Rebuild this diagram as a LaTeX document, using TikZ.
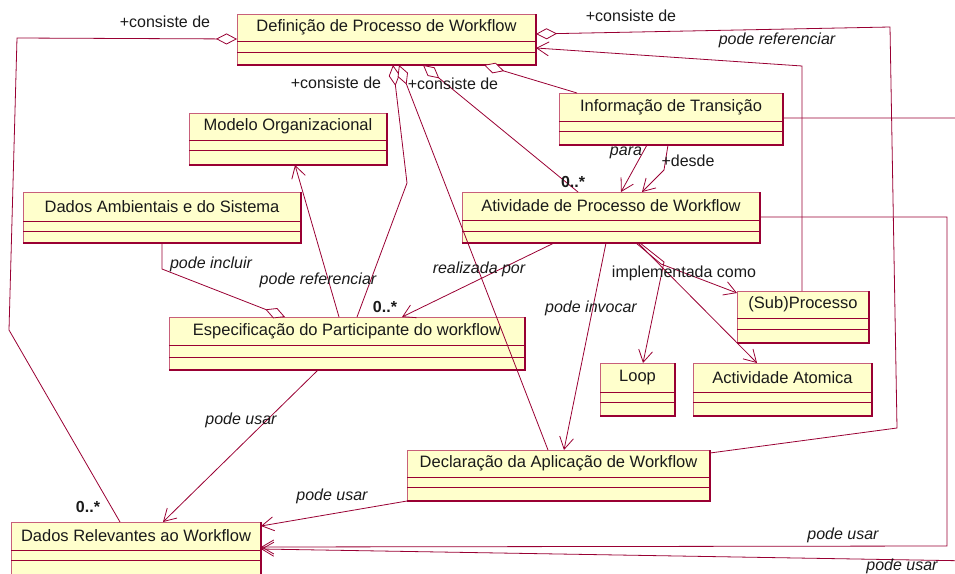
\documentclass[tikz,border=0pt]{standalone}
\usepackage{fontspec}
\setmainfont{Liberation Sans}
\usetikzlibrary{arrows.meta}

\definecolor{umlred}{HTML}{990033}
\definecolor{umledge}{HTML}{C8607A}
\definecolor{umlfill}{HTML}{FFFFCC}
\definecolor{umltext}{HTML}{1A1A1A}

\tikzset{
  clsbox/.style={rectangle, draw=umledge, fill=umlfill, line width=0.9pt, inner sep=0pt, outer sep=0pt},
  clstext/.style={font=\fontsize{16.5}{19}\selectfont, inner sep=0pt, text=umltext},
  sepline/.style={draw=umlred, line width=0.9pt},
  shadeline/.style={draw=umlred, line width=1.6pt},
  conn/.style={draw=umlred, line width=0.8pt},
  arr/.style={conn, -{Straight Barb[length=12pt,width=14pt,line width=0.8pt]}},
  comp/.style={conn, {Diamond[length=21pt,width=11pt,fill=white,line width=0.8pt]}-},
  compend/.style={conn, -{Diamond[length=21pt,width=11pt,fill=white,line width=0.8pt]}},
  lbl/.style={font=\fontsize{16}{19}\selectfont\itshape, inner sep=0pt, text=umltext},
  role/.style={font=\fontsize{16}{19}\selectfont, inner sep=0pt, text=umltext},
  mult/.style={font=\fontsize{16}{19}\selectfont\bfseries, inner sep=0pt, text=umltext}
}

% UML class box: name, x1, y1, x2, y2, first separator, second separator, title
\newcommand\umlclass[8]{%
  \node[clsbox, minimum width={(#4-#2)*1pt}, minimum height={(#5-#3)*1pt}, anchor=north west] (#1) at (#2,#3) {};
  \node[clstext] (#1-t) at ({(#2+#4)/2},{(#3+#6)/2}) {#8};
  \draw[sepline] (#1.west |- 0,#6) -- (#1.east |- 0,#6) (#1.west |- 0,#7) -- (#1.east |- 0,#7);
  \draw[shadeline] (#1.south west) -- (#1.south east) -- (#1.north east);
}

\begin{document}
\begin{tikzpicture}[x=1pt,y=-1pt]
\useasboundingbox (0,0) rectangle (955,573);
\clip (0,0) rectangle (955,573);

% classes
\umlclass{dpw}{237}{14}{536}{65}{41}{52}{Definição de Processo de Workflow}
\umlclass{mo}{189}{113}{387}{165}{140}{150}{Modelo Organizacional}
\umlclass{das}{23}{192}{301}{243}{221}{231}{Dados Ambientais e do Sistema}
\umlclass{it}{559}{93}{783}{145}{121}{131}{Informação de Transição}
\umlclass{apw}{462}{192}{760}{243}{220}{231}{Atividade de Processo de Workflow}
\umlclass{epw}{169}{317}{525}{370}{345}{357}{Especificação do Participante do workflow}
\umlclass{sub}{737}{291}{869}{343}{318}{329}{(Sub)Processo}
\umlclass{loop}{600}{363}{675}{416}{392}{402}{Loop}
\umlclass{aa}{693}{363}{872}{416}{392}{402}{Actividade Atomica}
\umlclass{daw}{407}{450}{710}{501}{477}{487}{Declaração da Aplicação de Workflow}
\umlclass{drw}{11}{522}{261}{592}{550}{560}{Dados Relevantes ao Workflow}

% aggregations from the process definition
\draw[comp] (dpw.west |- 0,39) -- (17,38) -- (9,330) -- (drw.north -| 120,0);
\draw[comp] (dpw.east |- 0,34) -- (890,27) -- (897,428) -- (daw.east |- 0,453);
\draw[comp] (dpw.south -| 484,0) -- (it.north -| 577,0);
\draw[comp] (dpw.south -| 393,0) -- (407,183) -- (epw.north -| 357,0);
\draw[comp] (dpw.south -| 399,0) -- (daw.north -| 548,0);
\draw[comp] (dpw.south -| 423,0) -- (apw.north -| 578,0);
\draw[compend] (das.south -| 162,0) -- (162,269) -- (epw.north -| 285,0);

% associations
\draw[arr] (sub.north -| 802,0) -- (802,66) -- (dpw.east |- 0,48);
\draw[arr] (it.south -| 647,0) -- (637,163) -- (apw.north -| 621,0);
\draw[arr] (it.south -| 668,0) -- (664,170) -- (apw.north -| 642,0);
\draw[arr] (it.east |- 0,118) -- (975,118) -- (975,561) -- (drw.east |- 0,549);
\draw[arr] (apw.east |- 0,217) -- (947,217) -- (947,546) -- (drw.east |- 0,547);
\draw[arr] (apw.south -| 554,0) -- (epw.north -| 402,0);
\draw[arr] (apw.south -| 606,0) -- (daw.north -| 564,0);
\draw[arr] (apw.south -| 636,0) -- (661,264) -- (sub.west |- 0,293);
\draw[arr] (apw.south -| 640,0) -- (664,262) -- (loop.north -| 643,0);
\draw[arr] (apw.south -| 638,0) -- (aa.north -| 757,0);
\draw[arr] (epw.north -| 339,0) -- (mo.south -| 295,0);
\draw[arr] (epw.south -| 318,0) -- (drw.north -| 163,0);
\draw[arr] (daw.south west) -- (drw.east |- 0,526);

% role names
\node[role] (r1) at (165,22) {+consiste de};
\node[role] (r2) at (631,16) {+consiste de};
\node[role] (r3) at (336,83) {+consiste de};
\node[role] (r4) at (453,84) {+consiste de};
\node[role] (r5) at (688,161) {+desde};

% multiplicities
\node[mult] (m1) at (88,507) {0..*};
\node[mult] (m2) at (573,182) {0..*};
\node[mult] (m3) at (385,307) {0..*};

% association labels
\node[lbl] (l1) at (777,40) {pode referenciar};
\node[lbl] (l2) at (626,153) {para};
\node[lbl] (l3) at (211,264) {pode incluir};
\node[lbl] (l4) at (318,280) {pode referenciar};
\node[lbl] (l5) at (479,269) {realizada por};
\node[lbl] (l6) at (591,308) {pode invocar};
\node[role] (l7) at (684,273) {implementada como};
\node[lbl] (l8) at (241,420) {pode usar};
\node[lbl] (l9) at (332,496) {pode usar};
\node[lbl] (l10) at (843,535) {pode usar};
\node[lbl] (l11) at (902,566) {pode usar};
\end{tikzpicture}
\end{document}
